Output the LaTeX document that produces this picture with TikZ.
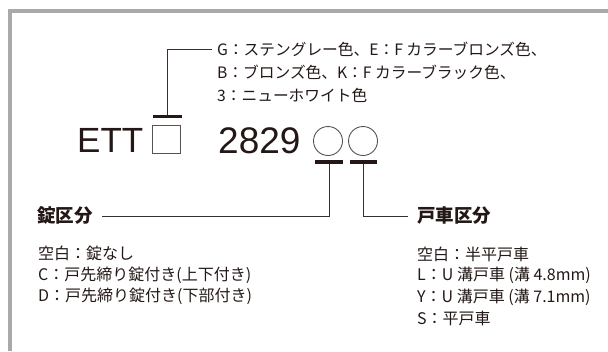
\documentclass[tikz,border=0pt]{standalone}
\usepackage{fontspec}
\newfontfamily\jp{Noto Sans CJK JP}
\newfontfamily\lat{Liberation Sans}
\definecolor{ink}{HTML}{231815}
\definecolor{framegray}{HTML}{A9A9A9}

\begin{document}
\begin{tikzpicture}[x=1pt,y=-1pt,
  txt/.style={anchor=west,inner sep=0pt,text=ink,font=\jp\fontsize{16}{19}\selectfont},
  head/.style={anchor=west,inner sep=0pt,text=ink,font=\jp\bfseries\fontsize{18.5}{22}\selectfont},
  code/.style={anchor=west,inner sep=0pt,text=ink,font=\lat\fontsize{35}{40}\selectfont},
  slot/.style={draw=ink!75,line width=0.9pt,inner sep=0pt,minimum size=28pt},
  bar/.style={fill=ink,inner sep=0pt,minimum width=29pt,minimum height=3.6pt},
  lead/.style={draw=ink!90,line width=0.7pt}]
  \useasboundingbox (0,0) rectangle (608,351);
  \draw[framegray,line width=4pt] (9.7,351) -- (9.7,11.3) -- (608,11.3);

  \node[code] (ett) at (77,140.5) {ETT};
  \node[slot] (sq) at (166.5,139) {};
  \node[bar] (barS) at (167,116.5) {};
  \node[code,font=\lat\fontsize{37}{40}\selectfont] (num) at (218,141) {2829};
  \node[slot,circle,minimum size=29pt] (ca) at (328,141) {};
  \node[slot,circle,minimum size=29pt] (cb) at (363,141) {};
  \node[bar,minimum width=28pt] (barA) at (329,162) {};
  \node[bar,minimum width=27pt] (barB) at (363.5,162) {};

  \node[txt,font=\jp\fontsize{15.7}{19}\selectfont] (clrA) at (217,49) {G：ステングレー色、E：F カラーブロンズ色、};
  \node[txt,font=\jp\fontsize{15.7}{19}\selectfont] (clrB) at (217,72) {B：ブロンズ色、K：F カラーブラック色、};
  \node[txt,font=\jp\fontsize{15.7}{19}\selectfont] (clrC) at (217,95) {3：ニューホワイト色};
  \draw[lead] (barS.north) |- ([xshift=-5pt]clrA.west);

  \node[head] (lock) at (37,216) {錠区分};
  \node[head] (roller) at (417,216) {戸車区分};
  \draw[lead] (barA.south) |- ([xshift=9pt]lock.east);
  \draw[lead] (barB.south) |- ([xshift=-9pt]roller.west);

  \node[txt] (lk1) at (38,253) {空白：錠なし};
  \node[txt] (lk2) at (38,275) {C：戸先締り錠付き(上下付き)};
  \node[txt] (lk3) at (38,296) {D：戸先締り錠付き(下部付き)};

  \node[txt] (rl1) at (417,254) {空白：半平戸車};
  \node[txt] (rl2) at (417,275) {L：U 溝戸車 (溝 4.8mm)};
  \node[txt] (rl3) at (417,297) {Y：U 溝戸車 (溝 7.1mm)};
  \node[txt] (rl4) at (417,318) {S：平戸車};
\end{tikzpicture}
\end{document}
